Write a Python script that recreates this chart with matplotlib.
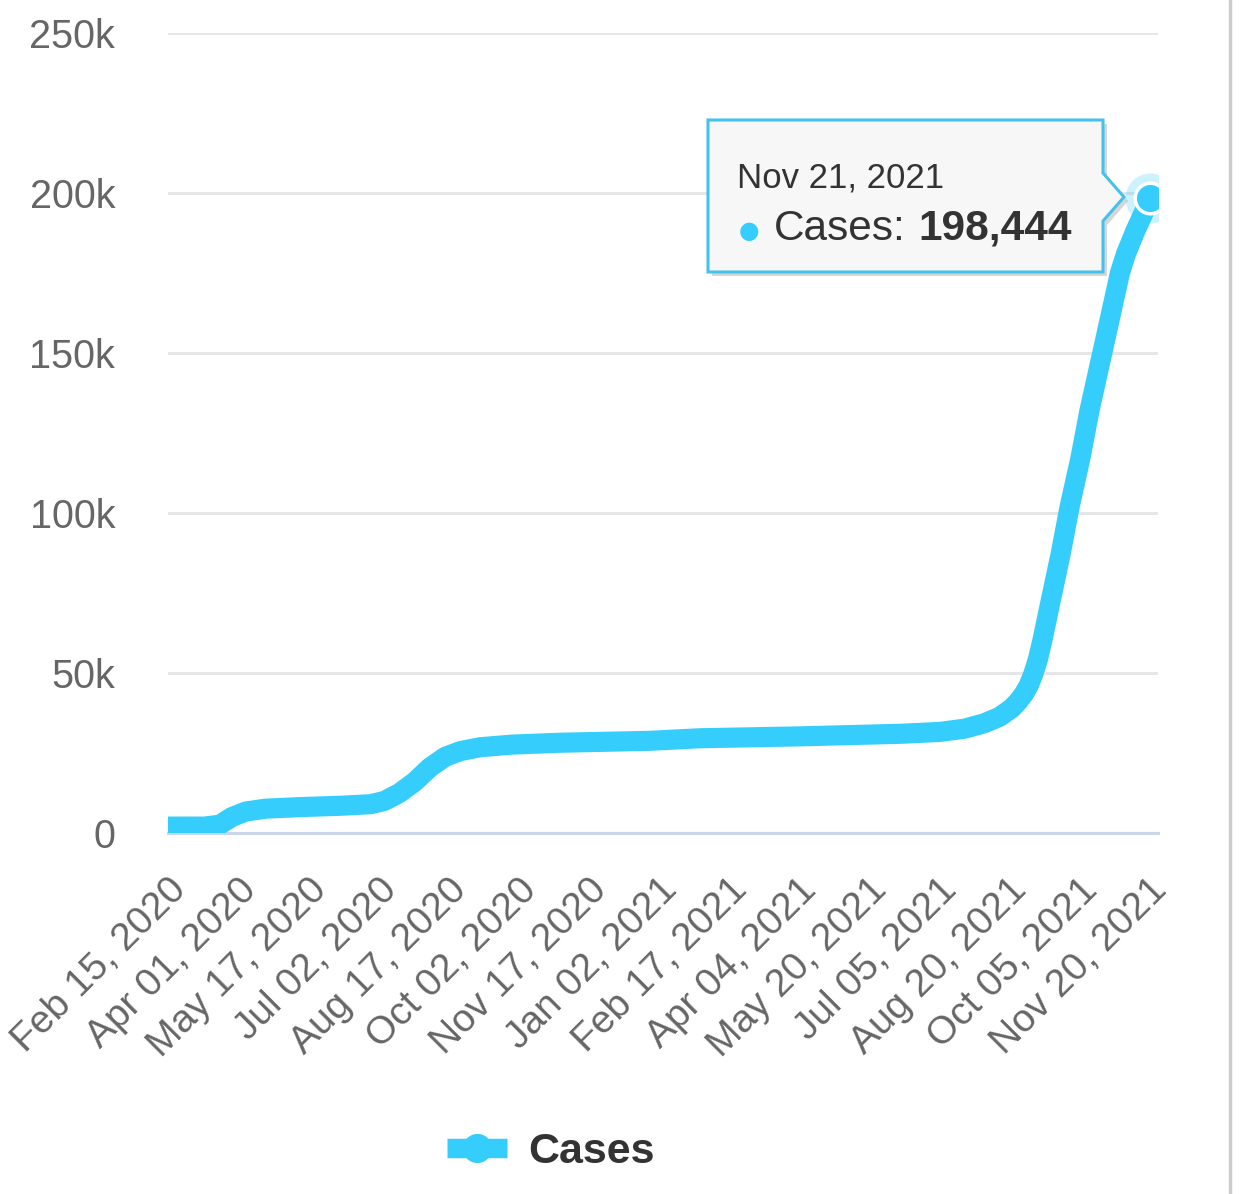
"""Cumulative cases line chart (Highcharts-style) with tooltip on the last point."""

import matplotlib.pyplot as plt
import matplotlib.dates as mdates
import matplotlib.transforms as mtransforms
import pandas as pd
from matplotlib.lines import Line2D
from matplotlib.patches import Polygon

plt.rcParams["font.family"] = ["Liberation Sans", "DejaVu Sans"]

# Cumulative cases
DATES = [
    "2020-02-15", "2020-03-10", "2020-03-20", "2020-03-28", "2020-04-06",
    "2020-04-19", "2020-05-12", "2020-06-07", "2020-06-27", "2020-07-06",
    "2020-07-16", "2020-07-26", "2020-08-05", "2020-08-15", "2020-08-25",
    "2020-09-07", "2020-09-27", "2020-10-29", "2020-12-27", "2021-01-29",
    "2021-04-05", "2021-06-10", "2021-07-06", "2021-07-22", "2021-08-04",
    "2021-08-14", "2021-08-22", "2021-08-26", "2021-08-30", "2021-09-02",
    "2021-09-05", "2021-09-08", "2021-09-11", "2021-09-14", "2021-09-17",
    "2021-09-23", "2021-09-29", "2021-10-06", "2021-10-12", "2021-10-19",
    "2021-10-26", "2021-11-01", "2021-11-05", "2021-11-11", "2021-11-21",
]
CASES = [
    2000, 2000, 2600, 5000, 6700,
    7600, 8100, 8500, 9000, 10000,
    12500, 16000, 20500, 23800, 25600,
    26800, 27600, 28200, 28800, 29600,
    30200, 31000, 31600, 32600, 34300,
    36300, 39000, 41000, 43500, 46000,
    49500, 54000, 60000, 66800, 73600,
    87000, 102000, 117000, 132000, 147000,
    162000, 175000, 181000, 188000, 198444,
]
TICK_START = "2020-02-15"
TICK_COUNT = 15
TICK_STEP = "46D"
Y_TICKS = [0, 50000, 100000, 150000, 200000, 250000]
Y_LABELS = ["0", "50k", "100k", "150k", "200k", "250k"]
TOOLTIP_DATE = "Nov 21, 2021"
TOOLTIP_VALUE = "198,444"

LINE_COLOR = "#35cdfc"
W, H = 1242, 1194


def fx(x, y):
    # pixel position -> figure fraction
    return (x / W, 1 - y / H)


def main() -> None:
    fig = plt.figure(figsize=(W / 100, H / 100), dpi=100)
    ax = fig.add_axes([168 / W, (H - 833) / H, (1158 - 168) / W, 800 / H])

    dates = pd.to_datetime(DATES)
    ax.plot(dates, CASES, color=LINE_COLOR, lw=14.5, solid_capstyle="butt",
            solid_joinstyle="round", zorder=3)

    # hovered last point: halo + marker
    ax.plot(dates[-1:], CASES[-1:], "o", ms=36, color=LINE_COLOR, alpha=0.25,
            mec="none", zorder=4)
    ax.plot(dates[-1:], CASES[-1:], "o", ms=22, color=LINE_COLOR, mec="white",
            mew=2.5, zorder=5)

    start = pd.Timestamp(TICK_START)
    ax.set_xlim(start, start + pd.Timedelta(days=650))
    ax.set_ylim(0, 250000)

    ticks = pd.date_range(TICK_START, periods=TICK_COUNT, freq=TICK_STEP)
    ax.set_xticks(ticks)
    ax.xaxis.set_major_formatter(mdates.DateFormatter("%b %d, %Y"))
    shift = mtransforms.ScaledTranslation(-8 / 100, 0, fig.dpi_scale_trans)
    for lab in ax.get_xticklabels():
        lab.set_rotation(45)
        lab.set_ha("right")
        lab.set_va("top")
        lab.set_rotation_mode("anchor")
        lab.set_transform(lab.get_transform() + shift)
    ax.set_yticks(Y_TICKS)
    ax.set_yticklabels(Y_LABELS)
    ax.tick_params(axis="x", length=0, pad=28, labelsize=28, labelcolor="#666666")
    ax.tick_params(axis="y", length=0, pad=38, labelsize=28.5, labelcolor="#666666")

    ax.grid(axis="y", color="#e6e6e6", lw=2.2)
    ax.set_axisbelow(True)
    for side in ["top", "right", "left"]:
        ax.spines[side].set_visible(False)
    ax.spines["bottom"].set_color("#ccd6eb")
    ax.spines["bottom"].set_linewidth(2.2)

    # tooltip box with arrow pointing at the last point
    box = [(708, 120), (1103, 120), (1103, 173), (1124, 197), (1103, 221),
           (1103, 272), (708, 272)]
    shadow = [(x + 4, y + 4) for x, y in box]
    fig.add_artist(Polygon([fx(*p) for p in shadow], closed=True,
                           transform=fig.transFigure, fc="#bbbbbb", ec="none",
                           alpha=0.6, zorder=6))
    fig.add_artist(Polygon([fx(*p) for p in box], closed=True,
                           transform=fig.transFigure, fc="#f7f7f7", ec="#45c2ea",
                           lw=2.2, zorder=7))
    fig.text(*fx(737, 178), TOOLTIP_DATE, fontsize=25, color="#333333",
             va="center", ha="left", zorder=8)
    fig.text(*fx(749, 231), "\u25CF", fontsize=17, color=LINE_COLOR,
             va="center", ha="center", zorder=8, family=["DejaVu Sans"])
    fig.text(*fx(774, 229), "Cases:", fontsize=30.5, color="#333333",
             va="center", ha="left", zorder=8)
    fig.text(*fx(918, 229), TOOLTIP_VALUE, fontsize=30.5, color="#333333",
             fontweight="bold", va="center", ha="left", zorder=8)

    # legend
    handle = Line2D([], [], color=LINE_COLOR, lw=14, marker="o", ms=20,
                    solid_capstyle="butt")
    leg = fig.legend([handle], ["Cases"], loc="center", bbox_to_anchor=fx(551, 1152),
                     frameon=False, handlelength=1.4, handletextpad=0.5,
                     prop={"size": 31, "weight": "bold"})
    for t in leg.get_texts():
        t.set_color("#333333")

    # page edge on the right
    fig.add_artist(Line2D([1230 / W, 1230 / W], [0, 1], transform=fig.transFigure,
                          color="#cccccc", lw=2.5))

    fig.savefig("out.png", dpi=100)
    plt.close(fig)


if __name__ == "__main__":
    main()
